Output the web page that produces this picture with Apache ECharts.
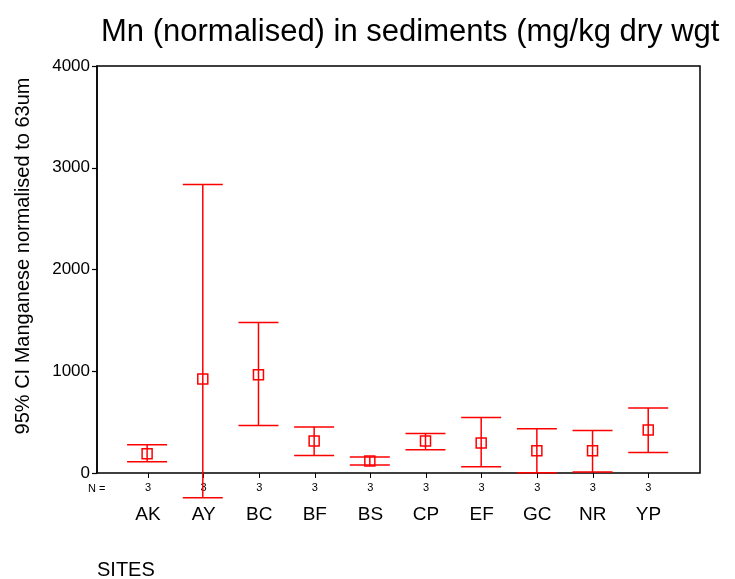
<!DOCTYPE html>
<html>
<head>
<meta charset="utf-8">
<script src="https://cdn.jsdelivr.net/npm/echarts@6/dist/echarts.min.js"></script>
<style>
  html, body { margin: 0; padding: 0; background: #fff; }
  #chart { width: 735px; height: 579px; }
</style>
</head>
<body>
<div id="chart"></div>
<script>
// sites and the 95% CI of Mn per site
const sites = ['AK', 'AY', 'BC', 'BF', 'BS', 'CP', 'EF', 'GC', 'NR', 'YP'];
const nCounts = [3, 3, 3, 3, 3, 3, 3, 3, 3, 3];
const meanValues = [190, 923, 966, 314, 118, 314, 295, 219, 219, 422];
const lowerCI = [111, -243, 468, 173, 79, 229, 62, 3, 10, 202];
const upperCI = [278, 2835, 1479, 452, 157, 389, 546, 435, 418, 638];

const RED = '#ff0000';
const FONT = 'Liberation Sans, Arial, sans-serif';

// [x index, low, high, mean]
const ciData = sites.map((s, i) => [i, lowerCI[i], upperCI[i], meanValues[i]]);

function renderCI(params, api) {
  const x = api.value(0);
  const lo = api.coord([x, api.value(1)]);
  const hi = api.coord([x, api.value(2)]);
  const mid = api.coord([x, api.value(3)]);
  const cap = 20;
  const box = 5;
  const st = { stroke: RED, lineWidth: 1.5, fill: null };
  return {
    type: 'group',
    children: [
      { type: 'line', shape: { x1: hi[0], y1: hi[1], x2: lo[0], y2: lo[1] }, style: st },
      { type: 'line', shape: { x1: hi[0] - cap, y1: hi[1], x2: hi[0] + cap, y2: hi[1] }, style: st },
      { type: 'line', shape: { x1: lo[0] - cap, y1: lo[1], x2: lo[0] + cap, y2: lo[1] }, style: st },
      { type: 'rect', shape: { x: mid[0] - box, y: mid[1] - box, width: box * 2, height: box * 2 }, style: st }
    ]
  };
}

const chart = echarts.init(document.getElementById('chart'));

const option = {
  backgroundColor: '#ffffff',
  animation: false,
  title: {
    text: 'Mn (normalised) in sediments (mg/kg dry wgt',
    left: 96,
    top: 12,
    textStyle: { fontFamily: FONT, fontSize: 31, fontWeight: 'normal', color: '#000' }
  },
  grid: [
    { left: 97, right: 35, top: 66, bottom: 106, show: true, borderColor: '#000', borderWidth: 1.5 },
    { left: 120.2, right: 58.8, top: 66, bottom: 106, show: false }
  ],
  xAxis: [
    { type: 'value', gridIndex: 0, min: -0.9, max: 9.93, show: false },
    {
      type: 'category',
      gridIndex: 1,
      data: sites,
      boundaryGap: true,
      axisLine: { show: false },
      axisTick: { show: true, alignWithLabel: true, length: 5, lineStyle: { color: '#000', width: 1 } },
      axisLabel: {
        margin: 8,
        color: '#000',
        fontFamily: FONT,
        formatter: (v, i) => '{n|' + nCounts[i] + '}\n{s|' + v + '}',
        rich: {
          n: { fontSize: 11, lineHeight: 14, fontFamily: FONT, color: '#000' },
          s: { fontSize: 19, lineHeight: 40, fontFamily: FONT, color: '#000' }
        }
      }
    }
  ],
  yAxis: [
    {
      type: 'value',
      gridIndex: 0,
      min: 0,
      max: 4000,
      interval: 1000,
      axisLine: { show: true, onZero: false, lineStyle: { color: '#000', width: 1.5 } },
      axisTick: { show: true, length: 5, lineStyle: { color: '#000', width: 1.2 } },
      axisLabel: { color: '#000', fontSize: 17, fontFamily: FONT, margin: 7, formatter: v => String(v) },
      splitLine: { show: false }
    },
    { type: 'value', gridIndex: 1, show: false }
  ],
  graphic: [
    {
      type: 'text',
      x: 23, y: 256,
      rotation: Math.PI / 2,
      style: {
        text: '95% CI Manganese normalised to 63um',
        fontFamily: FONT, fontSize: 20, fill: '#000',
        align: 'center', verticalAlign: 'middle'
      }
    },
    {
      type: 'text',
      x: 88, y: 489,
      style: { text: 'N =', fontFamily: FONT, fontSize: 11, fill: '#000', verticalAlign: 'middle' }
    },
    {
      type: 'text',
      x: 97, y: 570,
      style: { text: 'SITES', fontFamily: FONT, fontSize: 20, fill: '#000', verticalAlign: 'middle' }
    }
  ],
  series: [
    {
      type: 'custom',
      xAxisIndex: 0,
      yAxisIndex: 0,
      clip: false,
      renderItem: renderCI,
      encode: { x: 0, y: [1, 2, 3] },
      data: ciData
    }
  ]
};

chart.setOption(option);
</script>
</body>
</html>
